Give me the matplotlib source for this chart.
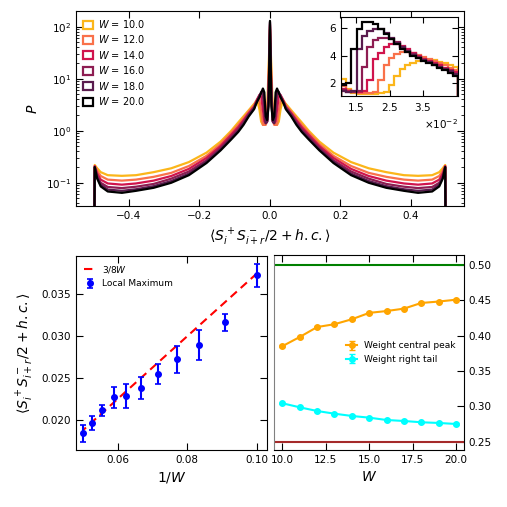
import numpy as np
import matplotlib
matplotlib.use("Agg")
import matplotlib.pyplot as plt
from matplotlib.patches import Patch

# --- histogram data (positive half, distribution is symmetric about 0) ---
W_list = [10.0, 12.0, 14.0, 16.0, 18.0, 20.0]
colors = ["#fbb61a", "#f9714a", "#d0144d", "#8e1d52", "#5a1c4e", "#000000"]

x_half = [0.0, 0.004, 0.008, 0.012, 0.016, 0.020, 0.025, 0.030, 0.035, 0.040,
          0.045, 0.06, 0.075, 0.09, 0.11, 0.14, 0.18, 0.23, 0.28, 0.33,
          0.38, 0.42, 0.46, 0.48, 0.49, 0.497, 0.5]
p_w10 = [90, 16, 2.5, 2.0, 1.3, 1.3, 1.5, 2.6, 3.6, 3.6, 3.3, 2.5, 1.9, 1.45,
         1.0, 0.62, 0.38, 0.25, 0.19, 0.16, 0.14, 0.136, 0.14, 0.16, 0.19, 0.22, 1e-4]
p_w12 = [100, 9.0, 1.6, 1.3, 1.3, 1.3, 2.4, 3.9, 4.2, 3.7, 3.1, 2.35, 1.75, 1.3,
         0.92, 0.56, 0.33, 0.21, 0.155, 0.13, 0.115, 0.11, 0.115, 0.135, 0.17, 0.21, 1e-4]
p_w14 = [110, 6.0, 1.5, 1.4, 1.5, 2.5, 4.6, 4.9, 4.2, 3.5, 2.9, 2.2, 1.6, 1.18,
         0.84, 0.51, 0.30, 0.185, 0.135, 0.11, 0.097, 0.092, 0.097, 0.115, 0.15, 0.21, 1e-4]
p_w16 = [120, 4.5, 1.5, 1.4, 2.0, 5.0, 5.3, 4.8, 4.0, 3.4, 2.8, 2.1, 1.48, 1.08,
         0.77, 0.47, 0.27, 0.165, 0.12, 0.095, 0.084, 0.079, 0.083, 0.10, 0.135, 0.2, 1e-4]
p_w18 = [125, 3.5, 1.5, 1.4, 3.5, 5.9, 5.6, 4.6, 3.9, 3.3, 2.7, 2.0, 1.38, 1.0,
         0.72, 0.44, 0.255, 0.15, 0.108, 0.086, 0.075, 0.07, 0.074, 0.092, 0.125, 0.2, 1e-4]
p_w20 = [130, 3.0, 1.6, 1.9, 5.5, 6.5, 5.4, 4.4, 3.8, 3.2, 2.6, 1.9, 1.3, 0.95,
         0.68, 0.42, 0.24, 0.14, 0.10, 0.08, 0.07, 0.064, 0.068, 0.085, 0.12, 0.2, 1e-4]
p_main = [p_w10, p_w12, p_w14, p_w16, p_w18, p_w20]

# --- inset: zoom of the right side peak (bin edges in units of 1e-2) ---
inset_edges = [1.04, 1.20, 1.36, 1.52, 1.68, 1.84, 2.00, 2.16, 2.32, 2.48, 2.64, 2.80,
               2.96, 3.12, 3.28, 3.44, 3.60, 3.76, 3.92, 4.08, 4.24, 4.40, 4.56]
ins_w10 = [2.3, 1.6, 1.3, 1.25, 1.25, 1.25, 1.25, 1.3, 1.35, 1.85, 2.55, 3.0, 3.3,
           3.45, 3.6, 3.7, 3.7, 3.65, 3.55, 3.45, 3.35, 3.2]
ins_w12 = [1.8, 1.5, 1.35, 1.3, 1.3, 1.3, 1.35, 2.2, 3.3, 3.85, 4.1, 4.25, 4.25,
           4.2, 4.05, 3.9, 3.75, 3.6, 3.45, 3.3, 3.1, 2.95]
ins_w14 = [1.6, 1.45, 1.4, 1.4, 1.45, 2.2, 3.75, 4.2, 4.65, 4.85, 4.85, 4.7, 4.45,
           4.2, 3.95, 3.75, 3.6, 3.45, 3.3, 3.1, 2.95, 2.8]
ins_w16 = [1.5, 1.4, 1.35, 1.45, 3.2, 4.6, 5.15, 5.3, 5.3, 5.2, 4.95, 4.65, 4.35,
           4.1, 3.9, 3.7, 3.55, 3.4, 3.2, 3.05, 2.9, 2.7]
ins_w18 = [1.45, 1.4, 1.45, 4.45, 5.4, 5.8, 5.95, 5.9, 5.6, 5.25, 4.9, 4.6, 4.3,
           4.05, 3.85, 3.65, 3.5, 3.35, 3.15, 3.0, 2.85, 2.65]
ins_w20 = [1.9, 2.0, 4.5, 5.9, 6.45, 6.45, 6.3, 5.95, 5.55, 5.2, 4.85, 4.5, 4.25,
           4.0, 3.8, 3.6, 3.45, 3.3, 3.1, 2.95, 2.75, 2.55]
p_inset = [ins_w10, ins_w12, ins_w14, ins_w16, ins_w18, ins_w20]

# --- local maximum vs 1/W ---
W_vals = [10, 11, 12, 13, 14, 15, 16, 17, 18, 19, 20]
local_max = [0.03727, 0.03165, 0.02894, 0.02722, 0.02547, 0.02379, 0.02284,
             0.02268, 0.02112, 0.01960, 0.01837]
local_max_err = [0.0014, 0.0010, 0.0018, 0.0016, 0.0012, 0.0013, 0.0014,
                 0.00125, 0.0007, 0.0008, 0.0010]

# --- weights vs W ---
weight_central = [0.385, 0.398, 0.412, 0.416, 0.423, 0.432, 0.4346, 0.438,
                  0.446, 0.448, 0.4506]
weight_tail = [0.3043, 0.2986, 0.2934, 0.2896, 0.2864, 0.284, 0.2807, 0.2793,
               0.2775, 0.2765, 0.2751]
weight_err = [0.001] * 11

plt.rcParams['font.size'] = 7.5
plt.rcParams['mathtext.fontset'] = 'dejavusans'

fig = plt.figure(figsize=(5.07, 5.07), dpi=100)

# ---------------- top panel ----------------
ax = fig.add_axes([0.150, 0.594, 0.765, 0.384])
x_half = np.array(x_half)
x_full = np.concatenate([-x_half[:0:-1], x_half])
for W, c, p in zip(W_list, colors, p_main):
    p = np.array(p)
    p_full = np.concatenate([p[:0:-1], p])
    ax.plot(x_full, p_full, color=c, lw=1.6)
ax.set_yscale('log')
ax.set_xlim(-0.55, 0.55)
ax.set_ylim(0.036, 200)
ax.set_xticks([-0.4, -0.2, 0.0, 0.2, 0.4])
ax.tick_params(which='both', direction='in', top=True, right=True)
ax.tick_params(which='major', length=5)
ax.tick_params(which='minor', length=2.5)
ax.set_xlabel(r'$\langle S_i^+ S_{i+r}^- /2 + h.c.\rangle$', fontsize=10)
ax.set_ylabel(r'$P$', fontsize=10)
handles = [Patch(facecolor='none', edgecolor=c, lw=1.6) for c in colors]
labels = [f'$W$ = {W}' for W in W_list]
ax.legend(handles, labels, loc='upper left', frameon=False, fontsize=7,
          handlelength=1.0, handleheight=0.9, labelspacing=0.35,
          borderaxespad=0.3, handletextpad=0.6)

# inset
axi = fig.add_axes([0.672, 0.811, 0.231, 0.155])
edges = np.array(inset_edges) * 1e-2
for c, v in zip(colors, p_inset):
    axi.stairs(v, edges, color=c, lw=1.6)
axi.set_xlim(0.0104, 0.0454)
axi.set_ylim(1.09, 6.77)
axi.set_xticks([0.015, 0.025, 0.035])
axi.set_yticks([2, 4, 6])
axi.ticklabel_format(style='sci', axis='x', scilimits=(0, 0), useMathText=True)
axi.tick_params(direction='in', top=True, right=True, length=4)
axi.xaxis.get_offset_text().set_fontsize(7.5)

# ---------------- bottom left ----------------
ax2 = fig.add_axes([0.150, 0.1124, 0.376, 0.383])
inv_W = 1.0 / np.array(W_vals, dtype=float)
ax2.plot(inv_W, 3.0 / (8.0 * np.array(W_vals)), color='red', ls='--', lw=1.5,
         dashes=(4, 2.5), label=r'$3/8W$')
ax2.errorbar(inv_W, local_max, yerr=local_max_err, fmt='o', color='blue',
             ms=4, capsize=2, elinewidth=1.5, capthick=1.2, label='Local Maximum')
ax2.set_xlim(0.048, 0.1028)
ax2.set_ylim(0.01638, 0.0396)
ax2.set_xticks([0.06, 0.08, 0.10])
ax2.set_yticks([0.020, 0.025, 0.030, 0.035])
ax2.tick_params(direction='in', top=True, right=True, length=5)
ax2.set_xlabel(r'$1/W$', fontsize=10)
ax2.set_ylabel(r'$\langle S_i^+ S_{i+r}^- /2 + h.c.\rangle$', fontsize=10)
ax2.legend(loc='upper left', frameon=False, fontsize=6.5, handlelength=1.2)

# ---------------- bottom right ----------------
ax3 = fig.add_axes([0.540, 0.1124, 0.375, 0.384])
ax3.axhline(0.5, color='green', lw=1.5)
ax3.axhline(0.25, color='brown', lw=1.5)
ax3.errorbar(W_vals, weight_central, yerr=weight_err, fmt='-o', color='orange',
             ms=4, lw=1.5, capsize=2, label='Weight central peak')
ax3.errorbar(W_vals, weight_tail, yerr=weight_err, fmt='-o', color='cyan',
             ms=4, lw=1.5, capsize=2, label='Weight right tail')
ax3.set_xlim(9.5, 20.46)
ax3.set_ylim(0.2383, 0.5133)
ax3.set_xticks([10.0, 12.5, 15.0, 17.5, 20.0])
ax3.set_yticks([0.25, 0.30, 0.35, 0.40, 0.45, 0.50])
ax3.yaxis.tick_right()
ax3.tick_params(direction='in', top=True, right=True, left=False, length=5)
ax3.spines['left'].set_color('gray')
ax3.set_xlabel(r'$W$', fontsize=10)
ax3.legend(loc='center right', frameon=False, fontsize=6.5, handlelength=1.2)

fig.savefig('out.png', dpi=100)
